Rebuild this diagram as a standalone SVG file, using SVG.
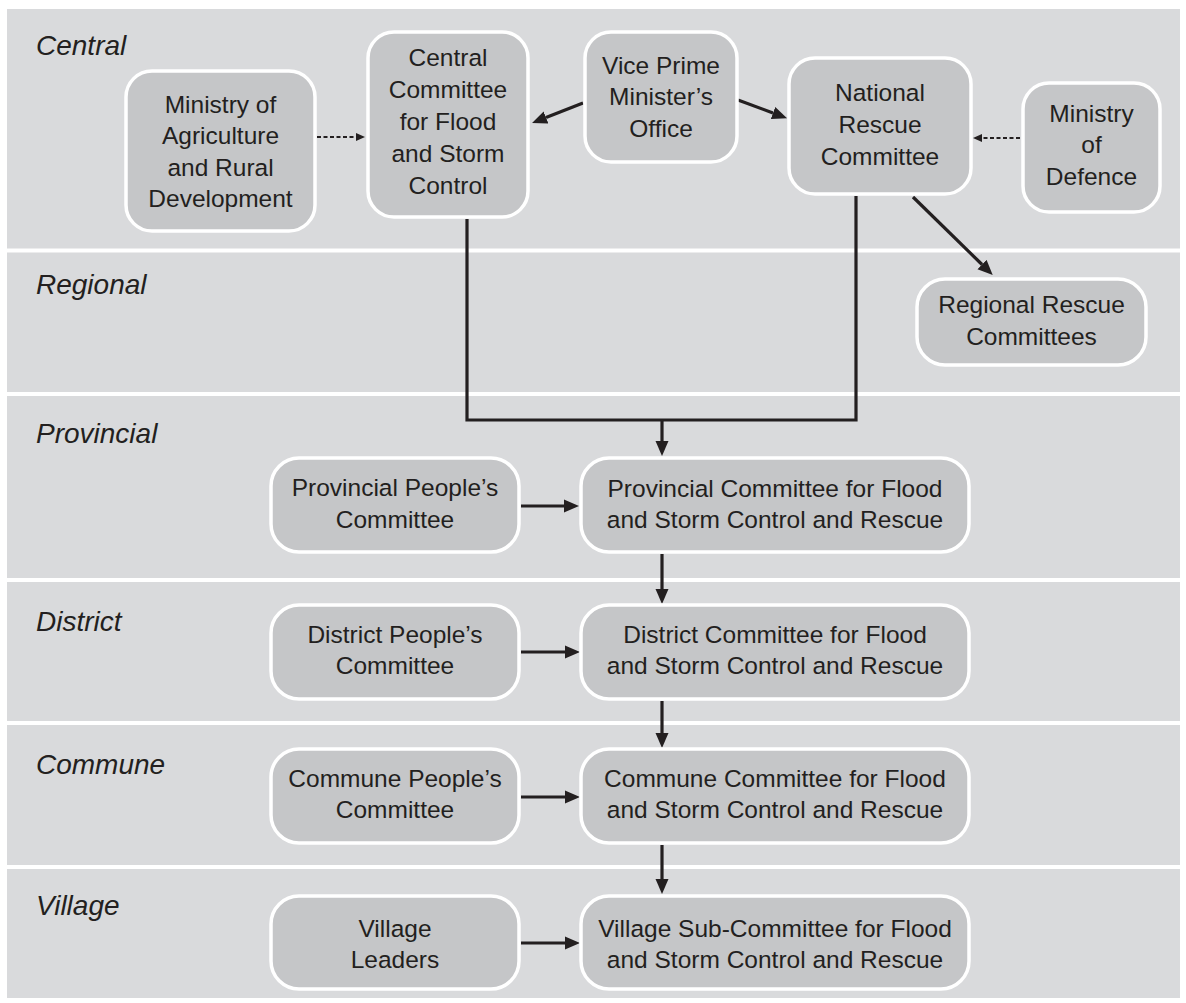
<svg xmlns="http://www.w3.org/2000/svg" width="1186" height="1003" viewBox="0 0 1186 1003">
<style>
.band{fill:#d9dadc}
.lvl{font-family:"Liberation Sans",Arial,sans-serif;font-style:italic;font-size:28px;fill:#231f20}
.box{fill:#c5c6c8;stroke:#ffffff;stroke-width:3.5}
.t{font-family:"Liberation Sans",Arial,sans-serif;font-size:24.5px;fill:#231f20;text-anchor:middle}
.ln{fill:none;stroke:#231f20;stroke-width:3.2}
.dot{fill:none;stroke:#231f20;stroke-width:2.2;stroke-dasharray:4 2.5}
</style>
<defs>
<marker id="ah" markerUnits="userSpaceOnUse" markerWidth="15" markerHeight="14" refX="0" refY="7" orient="auto">
<path d="M0,0.5 L15,7 L0,13.5 z" fill="#231f20"/>
</marker>
<marker id="ahs" markerUnits="userSpaceOnUse" markerWidth="9" markerHeight="8" refX="0" refY="4" orient="auto">
<path d="M0,0 L9,4 L0,8 z" fill="#231f20"/>
</marker>
</defs>
<rect width="1186" height="1003" fill="#ffffff"/>
<g id="bands">
<rect class="band" x="7" y="9" width="1173" height="239.5"/>
<rect class="band" x="7" y="252.5" width="1173" height="139.5"/>
<rect class="band" x="7" y="396" width="1173" height="182"/>
<rect class="band" x="7" y="582" width="1173" height="139"/>
<rect class="band" x="7" y="725" width="1173" height="140"/>
<rect class="band" x="7" y="869" width="1173" height="129"/>
<text class="lvl" x="36" y="55">Central</text>
<text class="lvl" x="36" y="294">Regional</text>
<text class="lvl" x="36" y="443">Provincial</text>
<text class="lvl" x="36" y="631">District</text>
<text class="lvl" x="36" y="774">Commune</text>
<text class="lvl" x="36" y="915">Village</text>
</g>
<g id="connectors">
<line class="dot" x1="317" y1="137" x2="356" y2="137" marker-end="url(#ahs)"/>
<line class="dot" x1="1020" y1="138" x2="982" y2="138" marker-end="url(#ahs)"/>
<line class="ln" x1="583" y1="103" x2="546" y2="117.5" marker-end="url(#ah)"/>
<line class="ln" x1="738" y1="100" x2="773" y2="113" marker-end="url(#ah)"/>
<line class="ln" x1="913" y1="197" x2="982" y2="264.5" marker-end="url(#ah)"/>
<path class="ln" d="M467,219 V420 H856 V196"/>
<line class="ln" x1="662" y1="420" x2="662" y2="441" marker-end="url(#ah)"/>
<line class="ln" x1="521" y1="506" x2="564" y2="506" marker-end="url(#ah)"/>
<line class="ln" x1="521" y1="652" x2="565" y2="652" marker-end="url(#ah)"/>
<line class="ln" x1="521" y1="797" x2="565" y2="797" marker-end="url(#ah)"/>
<line class="ln" x1="521" y1="943" x2="565" y2="943" marker-end="url(#ah)"/>
<line class="ln" x1="662" y1="554" x2="662" y2="589" marker-end="url(#ah)"/>
<line class="ln" x1="662" y1="701" x2="662" y2="733" marker-end="url(#ah)"/>
<line class="ln" x1="662" y1="845" x2="662" y2="879" marker-end="url(#ah)"/>
</g>
<g id="n-agri">
<rect class="box" x="126" y="71" width="189" height="160" rx="26"/>
<text class="t" x="220.5" y="113">Ministry of</text>
<text class="t" x="220.5" y="144">Agriculture</text>
<text class="t" x="220.5" y="176">and Rural</text>
<text class="t" x="220.5" y="207">Development</text>
</g>
<g id="n-central">
<rect class="box" x="368" y="32" width="160" height="185" rx="26"/>
<text class="t" x="448" y="66">Central</text>
<text class="t" x="448" y="98">Committee</text>
<text class="t" x="448" y="130">for Flood</text>
<text class="t" x="448" y="162">and Storm</text>
<text class="t" x="448" y="194">Control</text>
</g>
<g id="n-vice">
<rect class="box" x="585" y="32" width="152" height="130" rx="26"/>
<text class="t" x="661" y="74">Vice Prime</text>
<text class="t" x="661" y="105">Minister’s</text>
<text class="t" x="661" y="137">Office</text>
</g>
<g id="n-national">
<rect class="box" x="789" y="58" width="182" height="136" rx="26"/>
<text class="t" x="880" y="101">National</text>
<text class="t" x="880" y="133">Rescue</text>
<text class="t" x="880" y="165">Committee</text>
</g>
<g id="n-defence">
<rect class="box" x="1023" y="83" width="137" height="129" rx="26"/>
<text class="t" x="1091.5" y="122">Ministry</text>
<text class="t" x="1091.5" y="153">of</text>
<text class="t" x="1091.5" y="185">Defence</text>
</g>
<g id="n-regional">
<rect class="box" x="917" y="279" width="229" height="86" rx="28"/>
<text class="t" x="1031.5" y="313">Regional Rescue</text>
<text class="t" x="1031.5" y="345">Committees</text>
</g>
<g id="n-prov-people">
<rect class="box" x="271" y="458" width="248" height="94" rx="28"/>
<text class="t" x="395" y="496">Provincial People’s</text>
<text class="t" x="395" y="528">Committee</text>
</g>
<g id="n-prov-comm">
<rect class="box" x="581" y="458" width="388" height="94" rx="28"/>
<text class="t" x="775" y="497">Provincial Committee for Flood</text>
<text class="t" x="775" y="528">and Storm Control and Rescue</text>
</g>
<g id="n-dist-people">
<rect class="box" x="271" y="605" width="248" height="94" rx="28"/>
<text class="t" x="395" y="643">District People’s</text>
<text class="t" x="395" y="674">Committee</text>
</g>
<g id="n-dist-comm">
<rect class="box" x="581" y="605" width="388" height="94" rx="28"/>
<text class="t" x="775" y="643">District Committee for Flood</text>
<text class="t" x="775" y="674">and Storm Control and Rescue</text>
</g>
<g id="n-comm-people">
<rect class="box" x="271" y="749" width="248" height="94" rx="28"/>
<text class="t" x="395" y="787">Commune People’s</text>
<text class="t" x="395" y="818">Committee</text>
</g>
<g id="n-comm-comm">
<rect class="box" x="581" y="749" width="388" height="94" rx="28"/>
<text class="t" x="775" y="787">Commune Committee for Flood</text>
<text class="t" x="775" y="818">and Storm Control and Rescue</text>
</g>
<g id="n-vill-leaders">
<rect class="box" x="271" y="896" width="248" height="93" rx="28"/>
<text class="t" x="395" y="937">Village</text>
<text class="t" x="395" y="968">Leaders</text>
</g>
<g id="n-vill-comm">
<rect class="box" x="581" y="896" width="388" height="93" rx="28"/>
<text class="t" x="775" y="937">Village Sub-Committee for Flood</text>
<text class="t" x="775" y="968">and Storm Control and Rescue</text>
</g>
</svg>
